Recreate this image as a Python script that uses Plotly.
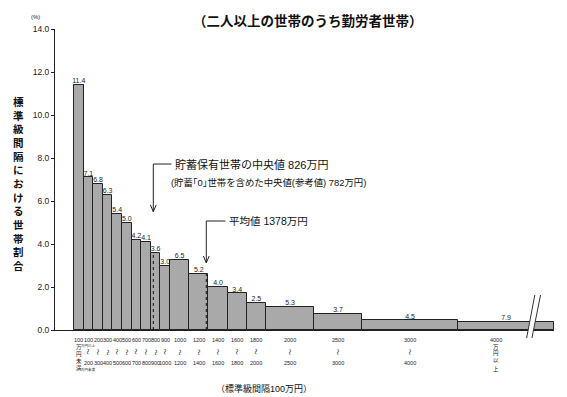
import plotly.graph_objects as go

# ---------------- data (万円 / %) ----------------
lower = [0, 100, 200, 300, 400, 500, 600, 700, 800, 900,
         1000, 1200, 1400, 1600, 1800, 2000, 2500, 3000, 4000]
upper = [100, 200, 300, 400, 500, 600, 700, 800, 900, 1000,
         1200, 1400, 1600, 1800, 2000, 2500, 3000, 4000, 5000]
pct = [11.4, 7.1, 6.8, 6.3, 5.4, 5.0, 4.2, 4.1, 3.6, 3.0,
       6.5, 5.2, 4.0, 3.4, 2.5, 5.3, 3.7, 4.5, 7.9]
# nominal class widths (万円) used to scale to the 100万円 standard interval
nominal_width = [100, 100, 100, 100, 100, 100, 100, 100, 100, 100,
                 200, 200, 200, 200, 200, 500, 500, 1000, 2000]
tick_lower = ["100", "100", "200", "300", "400", "500", "600", "700", "800", "900",
              "1000", "1200", "1400", "1600", "1800", "2000", "2500", "3000", "4000"]
tick_upper = ["", "200", "300", "400", "500", "600", "700", "800", "900", "1000",
              "1200", "1400", "1600", "1800", "2000", "2500", "3000", "4000", ""]
median_saver = 826
median_all = 782
mean_val = 1378
y_ticks = [0, 2, 4, 6, 8, 10, 12, 14]

# ---------------- derived ----------------
centers = [(a + b) / 2 for a, b in zip(lower, upper)]
widths = [b - a for a, b in zip(lower, upper)]
density = [p / (w / 100) for p, w in zip(pct, nominal_width)]

def height_at(v):
    for a, b, d in zip(lower, upper, density):
        if a <= v < b:
            return d
    return 0

XR = [-198, 5000]
YR = [0, 14]
# plot area in window pixels: x 55..554, y 29..330 (page body has an 8px margin)
PX0, PX1, PY0, PY1 = 55, 554, 29, 330

def pxp(pix):  # window pixel x -> paper x
    return (pix - PX0) / (PX1 - PX0)

def px(v):     # data x -> paper x
    return (v - XR[0]) / (XR[1] - XR[0])

def py(pix):   # window pixel y -> paper y
    return (PY1 - pix) / (PY1 - PY0)

JP = "Liberation Sans, Noto Sans CJK JP"

fig = go.Figure()
fig.add_trace(go.Bar(
    x=centers, y=density, width=widths, base=0,
    marker=dict(color="#a9a9a9", line=dict(color="#222222", width=1)),
    hoverinfo="skip", showlegend=False))
fig.add_trace(go.Scatter(
    x=centers, y=density, mode="text", text=[f"{p:.1f}" for p in pct],
    textposition="top center", textfont=dict(family=JP, size=7, color="#222"),
    hoverinfo="skip", showlegend=False, cliponaxis=False))

shapes = []
# dotted lines at median and mean
for v in (median_saver, mean_val):
    shapes.append(dict(type="line", xref="x", yref="y", x0=v, x1=v, y0=0, y1=height_at(v),
                       line=dict(color="#111", width=1, dash="dot")))

def arrow(v, y_top, y_tip, dx):
    return [dict(type="path", xref="x", yref="y",
                 path=f"M {v+dx},{y_top} L {v},{y_top} L {v},{y_tip}",
                 line=dict(color="#222", width=1)),
            dict(type="path", xref="x", yref="y",
                 path=f"M {v-30},{y_tip+0.32} L {v},{y_tip} L {v+30},{y_tip+0.32}",
                 line=dict(color="#222", width=1))]

shapes += arrow(median_saver, 7.72, 5.5, 190)
shapes += arrow(mean_val, 5.07, 3.12, 200)

# break mark on last bar
bx1, bx2 = 4800, 4860
shapes.append(dict(type="path", xref="paper", yref="paper",
                   path=(f"M {px(bx1)},{py(295)} L {px(bx1-85)},{py(338)} "
                         f"L {px(bx2-90)},{py(338)} L {px(bx2)},{py(295)} Z"),
                   fillcolor="white", line=dict(width=0), layer="above"))
for bx, off in ((bx1, 85), (bx2, 90)):
    shapes.append(dict(type="line", xref="paper", yref="paper",
                       x0=px(bx), y0=py(295), x1=px(bx - off), y1=py(338),
                       line=dict(color="#333", width=1)))

ann = []
def add(text, x, y, size=6, xref="x", yref="paper", xanchor="center", yanchor="middle",
        angle=0, color="#222", family=JP):
    ann.append(dict(text=text, x=x, y=y, xref=xref, yref=yref, xanchor=xanchor,
                    yanchor=yanchor, showarrow=False, textangle=angle,
                    font=dict(family=family, size=size, color=color)))

# x category labels
for i, c in enumerate(centers):
    if i == 0:
        for t, yy in zip(["100", "万", "円", "未", "満"], [340, 347, 354, 361, 368]):
            add(t, c, py(yy), size=5.5)
    elif i == len(centers) - 1:
        cx = lower[i] + 0.4 * (upper[i] - lower[i])
        for t, yy in zip([tick_lower[i], "万", "円", "以", "上"], [340, 347, 353, 360, 368]):
            add(t, cx, py(yy), size=5.5)
    else:
        add(tick_lower[i], c, py(340), size=5.5)
        add("～", c, py(352), size=6, angle=90)
        add(tick_upper[i], c, py(363), size=5.5)
        if i == 1:
            add("万円以上", c, py(345.5), size=3.5)
            add("万円未満", c, py(369), size=3.5)

add("（標準級間隔100万円）", pxp(264), py(388), size=9, xref="paper", color="#111")
add("<b>（二人以上の世帯のうち勤労者世帯）</b>", pxp(308), py(8.5), size=13.5, xref="paper",
    yanchor="top", color="#111", family="Noto Sans CJK JP")
add("(%)", pxp(35), py(17), size=6, xref="paper")
add("<b>" + "<br>".join("標準級間隔における世帯割合") + "</b>", pxp(18), py(184), size=10.5,
    xref="paper", color="#111", family="Noto Sans CJK JP")

add("貯蓄保有世帯の中央値 " + f"{median_saver}万円", median_saver + 210, 7.72, size=11,
    yref="y", xanchor="left", color="#111")
add(f"(貯蓄｢0｣世帯を含めた中央値(参考値) {median_all}万円)", median_saver + 160, 6.84,
    size=9.4, yref="y", xanchor="left", color="#111")
add(f"平均値 {mean_val}万円", mean_val + 220, 5.07, size=10.5, yref="y",
    xanchor="left", color="#111")

fig.update_layout(
    width=559, height=389,
    margin=dict(l=PX0 - 8, r=559 - (PX1 - 8), t=PY0 - 8, b=389 - (PY1 - 8)),
    paper_bgcolor="white", plot_bgcolor="white",
    bargap=0, shapes=shapes, annotations=ann,
    xaxis=dict(range=XR, showgrid=False, zeroline=False, showticklabels=False,
               showline=True, linecolor="#222", linewidth=1, ticks=""),
    yaxis=dict(range=YR, tickvals=y_ticks, tickformat=".1f", showgrid=False,
               zeroline=False, showline=True, linecolor="#222", linewidth=1,
               ticks="outside", ticklen=3, tickcolor="#222",
               tickfont=dict(family=JP, size=8.5, color="#222")),
)
fig.write_html("out.html")
